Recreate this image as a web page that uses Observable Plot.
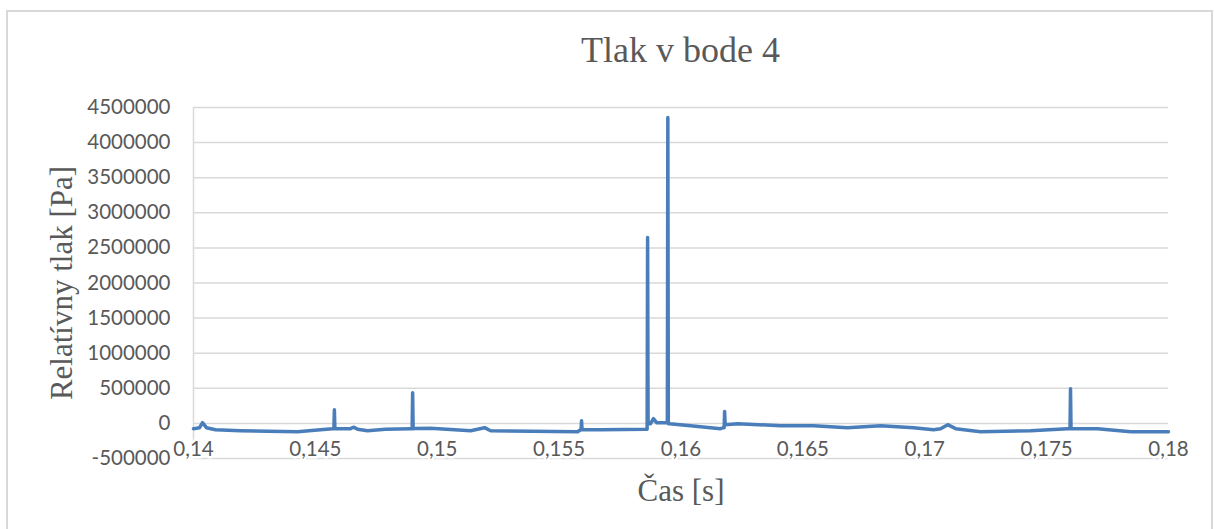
<!DOCTYPE html>
<html><head><meta charset="utf-8">
<script src="https://cdn.jsdelivr.net/npm/d3@7"></script>
<script src="https://cdn.jsdelivr.net/npm/@observablehq/plot@0.6"></script>
<style>
body{margin:0;background:#fff;}
#wrap{position:relative;width:1214px;height:529px;overflow:hidden;background:#fff;}
#frame{position:absolute;left:6px;top:10px;width:1207px;height:560px;border:2px solid #d9d9d9;box-sizing:border-box;}
#title{position:absolute;left:0;width:1361px;top:30px;line-height:40px;text-align:center;font-family:"Liberation Serif",serif;font-size:36px;color:#595959;}
#chart{position:absolute;left:0;top:0;}
</style></head><body>
<div id="wrap"><div id="frame"></div><div id="title">Tlak v bode 4</div><div id="chart"></div></div>
<script>
const times = [
0.14000,0.14025,0.14037,0.14053,0.14090,0.14193,0.14427,0.14521,0.14570,0.14576,
0.14578,0.14580,0.14587,0.14644,0.14656,0.14673,0.14714,0.14788,0.14890,0.14897,
0.14899,0.14901,0.14907,0.14972,0.15137,0.15194,0.15219,0.15576,0.15588,0.15590,
0.15592,0.15594,0.15670,0.15855,0.15861,0.15863,0.15865,0.15875,0.15887,0.15900,
0.15937,0.15944,0.15946,0.15948,0.15953,0.16039,0.16162,0.16175,0.16177,0.16179,
0.16181,0.16232,0.16408,0.16544,0.16683,0.16819,0.16954,0.17036,0.17065,0.17094,
0.17127,0.17229,0.17434,0.17586,0.17596,0.17598,0.17600,0.17607,0.17709,0.17845,
0.18000];
const pressures = [
-75000,-61000,10000,-61000,-90000,-104000,-118000,-90000,-75000,-75000,
195000,-75000,-75000,-75000,-54000,-82000,-104000,-82000,-75000,-75000,
437000,-75000,-72000,-68000,-104000,-61000,-104000,-118000,-90000,-90000,
38000,-90000,-90000,-82000,-82000,2649000,-4000,-4000,67000,10000,
10000,10000,4357000,-4000,-4000,-33000,-75000,-61000,-61000,171000,
-18000,-4000,-33000,-33000,-61000,-33000,-61000,-90000,-75000,-18000,
-75000,-118000,-104000,-75000,-75000,494000,-75000,-75000,-75000,-118000,
-118000];
const yTicks = [-500000,0,500000,1000000,1500000,2000000,2500000,3000000,3500000,4000000,4500000];
const xTicks = [0.14,0.145,0.15,0.155,0.16,0.165,0.17,0.175,0.18];
const xTickLabels = ["0,14","0,145","0,15","0,155","0,16","0,165","0,17","0,175","0,18"];
const titleText = "Tlak v bode 4";
const yLabel = "Relatívny tlak [Pa]";
const xLabel = "Čas [s]";

const data = times.map((t, i) => ({t, p: pressures[i]}));
const xTickData = xTicks.map((v, i) => ({v, label: xTickLabels[i]}));

const chart = Plot.plot({
  width: 1214,
  height: 529,
  marginLeft: 193,
  marginRight: 46,
  marginTop: 107,
  marginBottom: 71,
  x: {domain: [0.14, 0.18]},
  y: {domain: [-500000, 4500000]},
  style: {fontFamily: "Lato, sans-serif", fontSize: "20px", color: "#595959", background: "transparent"},
  marks: [
    Plot.gridY(yTicks, {stroke: "#d9d9d9", strokeOpacity: 1, strokeWidth: 1.5}),
    Plot.ruleX([0.14], {stroke: "#d9d9d9", strokeWidth: 1.5}),
    Plot.axisY(yTicks, {tickSize: 0, tickPadding: 23, tickFormat: d => String(d), label: null, fill: "#595959", fontSize: 20.5}),
    Plot.axisX(xTicks, {tickSize: 0, label: null, tickFormat: () => ""}),
    Plot.text(xTickData, {x: "v", text: "label", frameAnchor: "bottom", dy: -3, fill: "#595959", stroke: "white", strokeWidth: 5, fontSize: 20.5}),
    Plot.line(data, {x: "t", y: "p", stroke: "#4a7ebb", strokeWidth: 3.5, strokeLinejoin: "round", strokeLinecap: "round"}),
    Plot.text([yLabel], {frameAnchor: "left", dx: -131, rotate: -90, textAnchor: "middle", lineAnchor: "middle", fontFamily: "Liberation Serif, serif", fontSize: 31, fill: "#595959"}),
    Plot.text([xLabel], {frameAnchor: "bottom", dy: 33, textAnchor: "middle", lineAnchor: "middle", fontFamily: "Liberation Serif, serif", fontSize: 31, fill: "#595959"})
  ]
});
document.getElementById("chart").appendChild(chart);
document.getElementById("title").textContent = titleText;
</script>
</body></html>
